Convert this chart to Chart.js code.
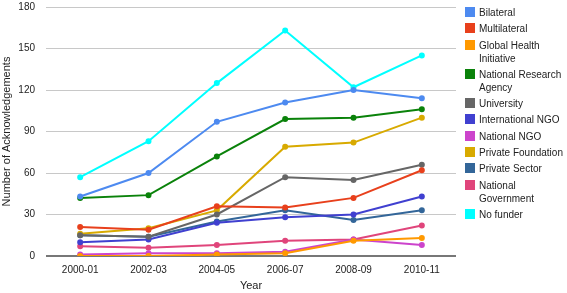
<!DOCTYPE html>
<html>
<head>
<meta charset="utf-8">
<script src="https://cdn.jsdelivr.net/npm/chart.js@4.4.0/dist/chart.umd.min.js"></script>
<style>
  html, body { margin: 0; padding: 0; background: #fff; }
  #wrap { position: relative; width: 567px; height: 293px; }
  #legend { position: absolute; left: 465px; top: 6px; width: 102px;
            font: 10px "Liberation Sans", Arial, sans-serif; color: #222; }
  #legend .item { display: flex; align-items: flex-start; margin-bottom: 3.3px; line-height: 13px; }
  #legend .box { width: 10px; height: 10px; flex: none; margin-top: 1px; margin-right: 4px; }
  #legend .txt { width: 88px; }
</style>
</head>
<body>
<div id="wrap">
  <canvas id="myChart" width="567" height="293"></canvas>
  <div id="legend"></div>
</div>
<script>
const years = ['2000-01', '2002-03', '2004-05', '2006-07', '2008-09', '2010-11'];
const names = ['Bilateral', 'Multilateral', 'Global Health Initiative', 'National Research Agency',
  'University', 'International NGO', 'National NGO', 'Private Foundation', 'Private Sector',
  'National Government', 'No funder'];
const colors = ['#4d8af0', '#e8401c', '#ff9900', '#0a820a', '#666666', '#4040d0',
  '#cc44cc', '#d8aa00', '#336699', '#e0457b', '#00ffff'];

const bilateral = [43, 60, 97, 111, 120, 114];
const multilateral = [21, 19, 36, 35, 42, 62];
const globalHealth = [0, 0, 1, 2, 11, 13];
const researchAgency = [42, 44, 72, 99, 100, 106];
const university = [15, 14, 30, 57, 55, 66];
const intlNgo = [10, 12, 24, 28, 30, 43];
const nationalNgo = [1, 2, 2, 3, 12, 8];
const privateFoundation = [16, 20, 33, 79, 82, 100];
const privateSector = [15, 14, 25, 33, 26, 33];
const nationalGov = [7, 6, 8, 11, 12, 22];
const noFunder = [57, 83, 125, 163, 122, 145];

const series = [bilateral, multilateral, globalHealth, researchAgency, university, intlNgo,
  nationalNgo, privateFoundation, privateSector, nationalGov, noFunder];

const font = { family: '"Liberation Sans", Arial, sans-serif', size: 10 };
const titleFont = { family: '"Liberation Sans", Arial, sans-serif', size: 11 };
const noBorder = { display: false, width: 0, color: 'rgba(0,0,0,0)' };

const ctx = document.getElementById('myChart').getContext('2d');
new Chart(ctx, {
    type: 'line',
    data: {
        labels: years,
        datasets: series.map((vals, i) => ({
            label: names[i],
            data: vals,
            borderColor: colors[i],
            backgroundColor: colors[i],
            borderWidth: 2,
            pointRadius: 2,
            pointHoverRadius: 3,
            tension: 0
        }))
    },
    options: {
        responsive: false,
        animation: false,
        layout: { padding: { top: 0, right: 111, left: 0, bottom: 0 } },
        plugins: { legend: { display: false }, tooltip: { enabled: false } },
        scales: {
            x: {
                offset: true,
                grid: { display: false },
                border: noBorder,
                ticks: { font: font, color: '#222', padding: 0, maxRotation: 0 },
                title: { display: true, text: 'Year', font: titleFont, color: '#222', padding: 0 },
                afterFit: scale => { scale.height = 37; }
            },
            y: {
                min: 0,
                max: 180,
                ticks: { stepSize: 30, font: font, color: '#222', padding: 11 },
                grid: {
                    drawTicks: false,
                    color: c => c.tick && c.tick.value === 0 ? '#777' : '#c8c8c8',
                    lineWidth: c => c.tick && c.tick.value === 0 ? 2 : 1
                },
                border: noBorder,
                title: { display: true, text: 'Number of Acknowledgements', font: titleFont, color: '#222', padding: 0 },
                afterFit: scale => {
                    scale.width = 46;
                    // tick padding would otherwise push the plot top down
                    scale.paddingTop = 7;
                }
            }
        }
    }
});

const legend = document.getElementById('legend');
names.forEach((name, i) => {
    const item = document.createElement('div');
    item.className = 'item';
    const box = document.createElement('span');
    box.className = 'box';
    box.style.background = colors[i];
    const txt = document.createElement('span');
    txt.className = 'txt';
    txt.textContent = name;
    item.appendChild(box);
    item.appendChild(txt);
    legend.appendChild(item);
});
</script>
</body>
</html>
